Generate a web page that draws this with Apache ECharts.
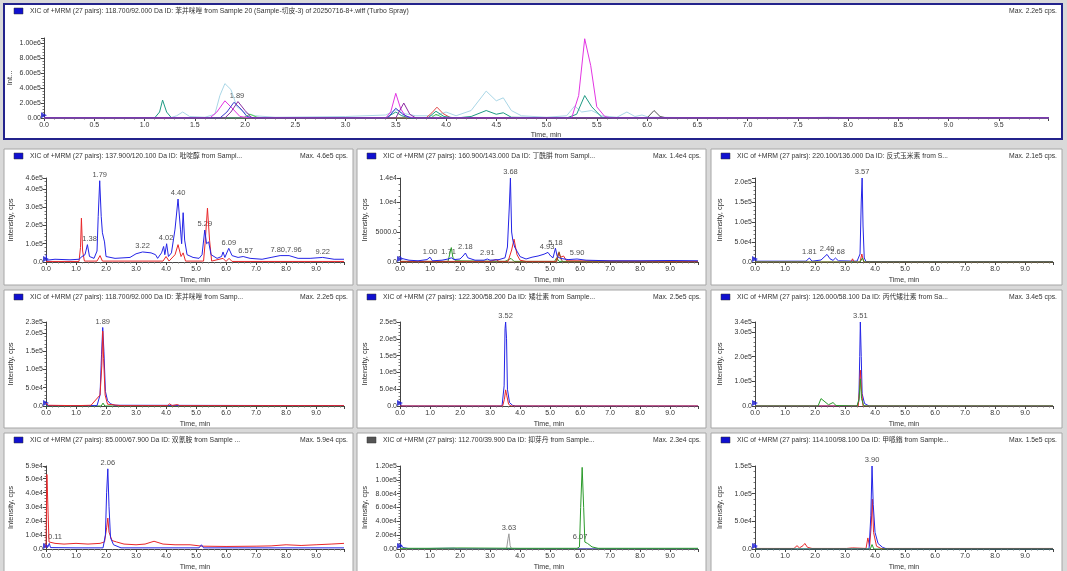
<!DOCTYPE html>
<html>
<head>
<meta charset="utf-8">
<script src="https://cdn.jsdelivr.net/npm/echarts@6/dist/echarts.min.js"></script>
<style>
  html, body { margin: 0; padding: 0; background: #d9d9d9; }
  #main { width: 1067px; height: 571px; }
</style>
</head>
<body>
<div id="main"></div>
<script>
// ---- top panel (overlay of all pairs) ----
var topLightBlue = [[0,0],[1.25,0],[1.32,0.3e5],[1.38,0.8e5],[1.45,0.2e5],[1.6,0.1e5],[1.7,0.5e5],[1.75,3.0e5],[1.8,4.6e5],[1.86,3.8e5],[1.92,1.5e5],[2.0,0.7e5],[2.1,0.3e5],[2.3,0.1e5],[3.0,0.2e5],[3.4,0.4e5],[3.5,1.1e5],[3.58,0.6e5],[3.7,0.3e5],[3.9,0.3e5],[4.0,0.8e5],[4.1,0.3e5],[4.25,1.0e5],[4.4,3.6e5],[4.5,2.3e5],[4.57,2.7e5],[4.65,1.0e5],[4.75,0.3e5],[5.0,0.1e5],[5.2,0.3e5],[5.28,1.6e5],[5.35,0.8e5],[5.45,1.0e5],[5.55,0.3e5],[5.7,0.1e5],[5.8,0.8e5],[5.88,0.2e5],[5.95,0.4e5],[6.02,0.1e5],[6.5,0.05e5],[7.6,0.05e5],[7.8,0.1e5],[8.0,0.05e5],[10,0]];
var topMagenta = [[0,0],[1.65,0],[1.72,0.8e5],[1.8,2.3e5],[1.88,1.2e5],[1.95,0.2e5],[2.05,0],[3.4,0],[3.45,0.8e5],[3.5,3.3e5],[3.55,1.2e5],[3.6,0.2e5],[3.7,0],[5.25,0],[5.32,3.0e5],[5.38,1.06e6],[5.44,7.0e5],[5.5,1.5e5],[5.58,0.2e5],[5.65,0],[10,0]];
var topTeal = [[0,0],[1.1,0],[1.15,0.8e5],[1.18,2.4e5],[1.22,0.8e5],[1.27,0],[3.4,0],[3.5,0.8e5],[3.56,0.3e5],[3.65,0],[3.82,0],[3.9,0.9e5],[3.98,0.2e5],[4.1,0],[4.25,0.2e5],[4.4,1.0e5],[4.5,0.5e5],[4.57,0.7e5],[4.65,0.1e5],[5.2,0],[5.3,0.5e5],[5.38,3.0e5],[5.45,1.5e5],[5.55,0.1e5],[5.65,0],[10,0]];
var topBlue = [[0,0],[1.75,0],[1.82,0.8e5],[1.89,2.1e5],[1.96,1.2e5],[2.02,0.2e5],[2.1,0],[3.42,0],[3.5,1.3e5],[3.57,0.5e5],[3.65,0],[10,0]];
var topPurple = [[0,0],[1.8,0],[1.86,0.8e5],[1.93,2.2e5],[2.0,1.0e5],[2.07,0],[3.5,0],[3.58,2.0e5],[3.64,0.5e5],[3.7,0],[10,0]];
var topRed = [[0,0],[3.8,0],[3.86,0.7e5],[3.91,1.45e5],[3.97,0.6e5],[4.05,0],[10,0]];
var topGreen = [[0,0],[1.98,0],[2.05,0.5e5],[2.12,0.1e5],[2.2,0],[3.85,0],[3.9,0.5e5],[3.96,0.1e5],[4.0,0],[10,0]];
var topGray = [[0,0],[6.0,0],[6.07,1.0e5],[6.13,0.2e5],[6.2,0],[10,0]];
var topLabels = [[1.92,2.2e5,'1.89']];

// ---- 137.900/120.100 ----
var p1Blue = [[0,0.4e5],[0.03,0.1e5],[0.3,0.15e5],[0.8,0.12e5],[1.1,0.15e5],[1.2,0.3e5],[1.3,0.4e5],[1.38,0.95e5],[1.45,0.3e5],[1.6,0.2e5],[1.7,0.6e5],[1.74,2.5e5],[1.79,4.45e5],[1.84,2.5e5],[1.88,1.6e5],[1.95,1.1e5],[2.0,0.3e5],[2.3,0.2e5],[2.8,0.25e5],[3.0,0.45e5],[3.22,0.55e5],[3.5,0.5e5],[3.65,0.4e5],[3.72,0.2e5],[3.85,0.5e5],[3.92,0.85e5],[3.96,0.4e5],[4.02,1.0e5],[4.08,0.3e5],[4.18,0.5e5],[4.3,1.8e5],[4.4,3.45e5],[4.48,1.8e5],[4.52,1.0e5],[4.57,2.7e5],[4.62,1.2e5],[4.7,0.4e5],[4.9,0.25e5],[5.1,0.2e5],[5.2,0.4e5],[5.29,1.75e5],[5.35,1.0e5],[5.42,1.1e5],[5.5,0.4e5],[5.7,0.2e5],[5.85,0.3e5],[5.9,0.55e5],[5.96,0.25e5],[6.09,0.75e5],[6.2,0.35e5],[6.4,0.25e5],[6.57,0.3e5],[6.8,0.2e5],[7.2,0.15e5],[7.5,0.25e5],[7.8,0.35e5],[8.1,0.35e5],[8.4,0.2e5],[8.8,0.2e5],[9.22,0.25e5],[9.6,0.15e5],[9.93,0.15e5]];
var p1Red = [[0,0.03e5],[1.1,0.03e5],[1.15,0.8e5],[1.18,2.4e5],[1.22,0.6e5],[1.28,0.05e5],[1.7,0.05e5],[1.8,0.35e5],[1.88,0.05e5],[3.9,0.05e5],[4.0,0.3e5],[4.1,0.05e5],[4.3,0.4e5],[4.4,0.95e5],[4.5,0.3e5],[4.57,0.5e5],[4.65,0.05e5],[5.25,0.05e5],[5.3,1.0e5],[5.38,2.95e5],[5.45,1.2e5],[5.52,0.05e5],[5.9,0.2e5],[6.0,0.03e5],[6.1,0.2e5],[6.2,0.03e5],[9.93,0.03e5]];
var p1Labels = [[1.79,4.45e5,'1.79'],[1.45,0.95e5,'1.38'],[3.22,0.55e5,'3.22'],[4.0,1.0e5,'4.02'],[4.4,3.45e5,'4.40'],[5.29,1.75e5,'5.29'],[6.09,0.75e5,'6.09'],[6.65,0.3e5,'6.57'],[8.0,0.35e5,'7.80,7.96'],[9.22,0.25e5,'9.22']];

// ---- 160.900/143.000 ----
var p2Blue = [[0,1000],[0.05,600],[0.3,300],[0.6,200],[0.9,400],[1.0,800],[1.08,200],[1.4,300],[1.6,500],[1.71,700],[1.8,400],[2.0,500],[2.1,1000],[2.18,1500],[2.26,700],[2.5,300],[2.8,300],[2.91,500],[3.0,300],[3.3,400],[3.5,700],[3.58,2500],[3.64,9000],[3.68,1.4e4],[3.72,5000],[3.76,3600],[3.82,2500],[3.9,1800],[4.0,900],[4.2,500],[4.4,800],[4.6,1000],[4.8,1300],[4.93,1600],[5.02,1000],[5.1,700],[5.18,2300],[5.24,900],[5.35,600],[5.6,400],[5.9,500],[6.2,300],[7,200],[8,200],[9,250],[9.93,200]];
var p2Red = [[0,100],[3.0,100],[3.2,400],[3.3,100],[3.6,100],[3.72,2000],[3.8,3800],[3.9,1200],[4.0,300],[4.2,100],[5.2,100],[5.28,1500],[5.35,800],[5.45,1000],[5.55,200],[9.93,100]];
var p2Green = [[0,100],[1.6,100],[1.68,1800],[1.71,2400],[1.76,800],[1.85,200],[3.5,100],[3.7,600],[3.8,100],[5.15,100],[5.22,700],[5.3,100],[9.93,100]];
var p2Brown = [[0,0],[5.22,0],[5.3,1700],[5.38,300],[5.45,0],[9.93,0]];
var p2Labels = [[1.0,800,'1.00'],[1.62,800,'1.71'],[2.18,1500,'2.18'],[2.91,500,'2.91'],[3.68,1.4e4,'3.68'],[4.9,1600,'4.93'],[5.18,2300,'5.18'],[5.9,500,'5.90']];

// ---- 220.100/136.000 ----
var p3Blue = [[0,0.1e5],[0.05,0.02e5],[1.7,0.02e5],[1.81,0.1e5],[1.9,0.02e5],[2.2,0.05e5],[2.3,0.12e5],[2.4,0.19e5],[2.5,0.08e5],[2.6,0.04e5],[2.68,0.1e5],[2.78,0.03e5],[3.4,0.02e5],[3.5,0.2e5],[3.54,1.5e5],[3.57,2.1e5],[3.6,0.9e5],[3.64,0.1e5],[3.7,0.01e5],[9.93,0.01e5]];
var p3Red = [[0,0],[3.2,0],[3.25,0.08e5],[3.3,0],[3.5,0],[3.56,0.2e5],[3.62,0],[9.93,0]];
var p3Green = [[0,0],[3.5,0],[3.58,0.1e5],[3.64,0],[9.93,0]];
var p3Labels = [[1.81,1e4,'1.81'],[2.4,1.9e4,'2.40'],[2.75,1e4,'2.68'],[3.57,2.1e5,'3.57']];

// ---- 118.700/92.000 ----
var p4Blue = [[0,0.1e5],[0.05,0.01e5],[1.7,0.01e5],[1.8,0.3e5],[1.85,1.4e5],[1.89,2.15e5],[1.93,1.5e5],[1.98,0.4e5],[2.05,0.15e5],[2.15,0.06e5],[2.3,0.02e5],[9.93,0.01e5]];
var p4Red = [[0,0.08e5],[0.08,0.02e5],[1.0,0.01e5],[1.5,0.02e5],[1.8,0.3e5],[1.86,1.1e5],[1.89,2.05e5],[1.92,1.3e5],[1.97,0.3e5],[2.05,0.05e5],[2.5,0.01e5],[4.05,0.01e5],[4.12,0.06e5],[4.2,0.01e5],[4.38,0.04e5],[4.45,0.01e5],[9.93,0.01e5]];
var p4Green = [[0,0],[1.84,0],[1.9,0.08e5],[1.96,0],[9.93,0]];
var p4Labels = [[1.89,2.15e5,'1.89']];

// ---- 122.300/58.200 ----
var p5Blue = [[0,0.1e5],[0.05,0],[3.4,0],[3.47,0.6e5],[3.5,2.3e5],[3.52,2.5e5],[3.55,2.0e5],[3.58,0.5e5],[3.65,0.1e5],[3.75,0.02e5],[3.85,0],[9.93,0]];
var p5Red = [[0,0],[3.42,0],[3.48,0.2e5],[3.52,0.48e5],[3.56,0.3e5],[3.62,0.05e5],[3.7,0],[9.93,0]];
var p5Labels = [[3.52,2.5e5,'3.52']];

// ---- 126.000/58.100 ----
var p6Blue = [[0,0.1e5],[0.05,0],[3.4,0],[3.46,0.2e5],[3.49,2.0e5],[3.51,3.4e5],[3.54,2.0e5],[3.57,0.5e5],[3.65,0.1e5],[3.8,0],[9.93,0]];
var p6Red = [[0,0],[3.44,0],[3.48,0.6e5],[3.51,1.45e5],[3.55,0.6e5],[3.6,0],[9.93,0]];
var p6Green = [[0,0],[2.1,0],[2.2,0.3e5],[2.3,0.2e5],[2.45,0.05e5],[2.6,0.14e5],[2.7,0.02e5],[3.4,0],[3.47,0.3e5],[3.51,1.1e5],[3.55,0.3e5],[3.62,0.02e5],[3.7,0],[9.93,0]];
var p6Labels = [[3.51,3.4e5,'3.51']];

// ---- 85.000/67.900 ----
var p7Red = [[0,0.1e4],[0.03,5.3e4],[0.07,5.2e4],[0.1,0.5e4],[0.3,0.4e4],[0.6,0.35e4],[1.0,0.4e4],[1.4,0.35e4],[1.8,0.4e4],[1.95,0.5e4],[2.02,1.5e4],[2.06,2.2e4],[2.1,1.2e4],[2.2,0.6e4],[2.35,0.5e4],[2.6,0.35e4],[3.0,0.3e4],[3.3,0.35e4],[3.6,0.55e4],[3.9,0.35e4],[4.3,0.3e4],[4.8,0.3e4],[5.2,0.2e4],[6.0,0.18e4],[7.0,0.2e4],[7.5,0.22e4],[8.0,0.3e4],[8.5,0.25e4],[9.0,0.3e4],[9.5,0.35e4],[9.93,0.4e4]];
var p7Blue = [[0,0.3e4],[0.05,0.1e4],[0.11,0.4e4],[0.15,0.1e4],[1.0,0.08e4],[1.9,0.08e4],[1.98,1.0e4],[2.02,4.0e4],[2.06,5.7e4],[2.1,3.0e4],[2.15,0.8e4],[2.25,0.3e4],[2.5,0.08e4],[5.1,0.08e4],[5.18,0.3e4],[5.25,0.08e4],[9.93,0.08e4]];
var p7Labels = [[2.06,5.7e4,'2.06'],[0.3,0.45e4,'0.11']];

// ---- 112.700/39.900 ----
var p8Green = [[0,0.1e4],[1.0,0.1e4],[2.0,0.15e4],[4.0,0.1e4],[5.9,0.1e4],[5.98,0.3e4],[6.02,6.0e4],[6.07,1.18e5],[6.12,6.0e4],[6.16,1.0e4],[6.25,0.8e4],[6.4,0.3e4],[6.6,0.1e4],[9.93,0.1e4]];
var p8Gray = [[0,0],[3.55,0],[3.6,1.5e4],[3.63,2.2e4],[3.67,0.5e4],[3.72,0],[9.93,0]];
var p8Blue = [[0,0.8e4],[0.1,0.2e4],[0.3,0.05e4],[1.8,0.1e4],[1.85,0.25e4],[1.92,0.05e4],[9.93,0.05e4]];
var p8Labels = [[3.63,2.2e4,'3.63'],[6.0,0.9e4,'6.07']];

// ---- 114.100/98.100 ----
var p9Blue = [[0,0.1e5],[0.05,0],[3.8,0],[3.86,0.6e5],[3.9,1.5e5],[3.94,0.8e5],[4.0,0.3e5],[4.1,0.1e5],[4.25,0.03e5],[4.4,0],[9.93,0]];
var p9Red = [[0,0.01e5],[1.3,0.01e5],[1.4,0.06e5],[1.48,0.02e5],[1.6,0.06e5],[1.66,0.1e5],[1.75,0.03e5],[1.9,0.01e5],[3.05,0.01e5],[3.1,0.02e5],[3.25,0.02e5],[3.3,0.01e5],[3.7,0.01e5],[3.76,0.2e5],[3.82,0.05e5],[3.87,0.4e5],[3.91,0.9e5],[3.95,0.3e5],[4.05,0.05e5],[4.2,0.01e5],[4.9,0.01e5],[4.95,0.02e5],[5.2,0.01e5],[5.25,0.03e5],[5.3,0.01e5],[9.93,0.01e5]];
var p9Green = [[0,0],[3.84,0],[3.9,0.08e5],[3.96,0],[9.93,0]];
var p9Labels = [[3.9,1.5e5,'3.90']];

var BLUE = '#2424e6', RED = '#e8272a', GREEN = '#2a9a2a';
var FONT = '"Liberation Sans", Arial, "Noto Sans CJK SC", sans-serif';

var head = 'XIC of +MRM (27 pairs): ';
var panels = [
  {box:[4,4,1058,135], big:true, grid:[44,38,1004,80], xMax:9.99, xInt:0.5, yMax:1.07e6, yInt:2e5, dec:2, showMax:false, yName:'Int...',
   title: head + '118.700/92.000 Da ID: 苯并咪唑 from Sample 20 (Sample-切皮-3) of 20250716-8+.wiff (Turbo Spray)', maxText:'Max. 2.2e5 cps.',
   lines:[[topLightBlue,'#a9d6e6'],[topGreen,'#55cc55'],[topRed,'#e04848'],[topGray,'#505050'],[topTeal,'#1f9a83'],[topMagenta,'#e235e2'],[topBlue,'#3a3acc'],[topPurple,'#8a2ba0']], labels: topLabels},
  {box:[4,149,349,136], grid:[46,178,298,84], yMax:4.6e5, yInt:1e5, showMax:true,
   title: head + '137.900/120.100 Da ID: 吡啶醇 from Sampl...', maxText:'Max. 4.6e5 cps.', lines:[[p1Red,RED],[p1Blue,BLUE]], labels:p1Labels},
  {box:[357,149,349,136], grid:[400,178,298,84], yMax:1.4e4, yInt:5000, showMax:true,
   title: head + '160.900/143.000 Da ID: 丁酰肼 from Sampl...', maxText:'Max. 1.4e4 cps.', lines:[[p2Green,GREEN],[p2Red,RED],[p2Brown,'#8b4a1a'],[p2Blue,BLUE]], labels:p2Labels},
  {box:[711,149,351,136], grid:[755,178,298,84], yMax:2.1e5, yInt:5e4, showMax:false,
   title: head + '220.100/136.000 Da ID: 反式玉米素 from S...', maxText:'Max. 2.1e5 cps.', lines:[[p3Blue,BLUE],[p3Red,RED],[p3Green,GREEN]], labels:p3Labels},
  {box:[4,290,349,138], grid:[46,322,298,84], yMax:2.3e5, yInt:5e4, showMax:true,
   title: head + '118.700/92.000 Da ID: 苯并咪唑 from Samp...', maxText:'Max. 2.2e5 cps.', lines:[[p4Green,GREEN],[p4Blue,BLUE],[p4Red,RED]], labels:p4Labels},
  {box:[357,290,349,138], grid:[400,322,298,84], yMax:2.5e5, yInt:5e4, showMax:true,
   title: head + '122.300/58.200 Da ID: 矮壮素 from Sample...', maxText:'Max. 2.5e5 cps.', lines:[[p5Blue,BLUE],[p5Red,RED]], labels:p5Labels},
  {box:[711,290,351,138], grid:[755,322,298,84], yMax:3.4e5, yInt:1e5, showMax:true,
   title: head + '126.000/58.100 Da ID: 丙代矮壮素 from Sa...', maxText:'Max. 3.4e5 cps.', lines:[[p6Blue,BLUE],[p6Red,RED],[p6Green,GREEN]], labels:p6Labels},
  {box:[4,433,349,140], grid:[46,466,298,83], yMax:5.9e4, yInt:1e4, showMax:true,
   title: head + '85.000/67.900 Da ID: 双氰胺 from Sample ...', maxText:'Max. 5.9e4 cps.', lines:[[p7Red,RED],[p7Blue,BLUE]], labels:p7Labels},
  {box:[357,433,349,140], grid:[400,466,298,83], yMax:1.2e5, yInt:2e4, dec:2, showMax:true, icon:'#555',
   title: head + '112.700/39.900 Da ID: 抑芽丹 from Sample...', maxText:'Max. 2.3e4 cps.', lines:[[p8Blue,BLUE],[p8Gray,'#9a9a9a'],[p8Green,GREEN]], labels:p8Labels},
  {box:[711,433,351,140], grid:[755,466,298,83], yMax:1.5e5, yInt:5e4, showMax:true,
   title: head + '114.100/98.100 Da ID: 甲哌鎓 from Sample...', maxText:'Max. 1.5e5 cps.', lines:[[p9Red,RED],[p9Blue,BLUE],[p9Green,GREEN]], labels:p9Labels}
];

function isStep(v, step) {
  var r = v / step;
  return Math.abs(r - Math.round(r)) < 1e-6;
}

var grids = [], xAxes = [], yAxes = [], series = [], graphics = [];

panels.forEach(function(p, i) {
  var dec = p.dec || 1;
  var xMax = p.xMax || 9.93, xInt = p.xInt || 1;
  var b = p.box;
  graphics.push({type:'rect', z:-10, shape:{x:b[0], y:b[1], width:b[2], height:b[3]},
    style:{fill:'#ffffff', stroke: p.big ? '#23238c' : '#a6a6a6', lineWidth: p.big ? 2 : 1}});
  graphics.push({type:'rect', z:-5, shape:{x:b[0]+10, y:b[1]+4, width:9, height:6},
    style:{fill: p.icon || '#1010d0', stroke:'#333', lineWidth:0.5}});
  graphics.push({type:'text', z:-5, x:b[0]+26, y:b[1]+4,
    style:{text:p.title, font:'6.8px ' + FONT, fill:'#333'}});
  graphics.push({type:'text', z:-5, x:b[0]+b[2]-5, y:b[1]+4,
    style:{text:p.maxText, font:'6.8px ' + FONT, fill:'#333', align:'right'}});

  grids.push({left:p.grid[0], top:p.grid[1], width:p.grid[2], height:p.grid[3], outerBoundsMode:'none', containLabel:false});
  xAxes.push({
    gridIndex:i, type:'value', min:0, max:xMax, interval:xInt,
    name:'Time, min', nameLocation:'middle', nameGap: p.big ? 14 : 15, nameMoveOverlap:false,
    nameTextStyle:{fontSize:7, color:'#333', fontFamily:FONT},
    axisLine:{lineStyle:{color:'#444', width:1}},
    axisTick:{show:true, length:3, lineStyle:{color:'#444'}},
    minorTick:{show:true, splitNumber:5, length:1.5, lineStyle:{color:'#777'}},
    splitLine:{show:false},
    axisLabel:{fontSize:7, color:'#333', fontFamily:FONT, margin:4,
      formatter:function(v){ return isStep(v, xInt) ? v.toFixed(1) : ''; }}
  });
  yAxes.push({
    gridIndex:i, type:'value', min:0, max:p.yMax, interval:p.yInt,
    name:p.yName || 'Intensity, cps', nameLocation:'middle', nameGap: p.big ? 30 : 31, nameRotate:90, nameMoveOverlap:false,
    nameTextStyle:{fontSize:7.5, color:'#333', fontFamily:FONT},
    axisLine:{show:true, lineStyle:{color:'#444', width:1}},
    axisTick:{show:true, length:3, lineStyle:{color:'#444'}},
    minorTick:{show:true, splitNumber:5, length:1.5, lineStyle:{color:'#777'}},
    splitLine:{show:false},
    axisLabel:{fontSize:7, color:'#333', fontFamily:FONT, margin:3,
      formatter:function(v){
        var onStep = isStep(v, p.yInt);
        if (!onStep && !(p.showMax && Math.abs(v - p.yMax) < 1e-6)) return '';
        if (v === 0) return (0).toFixed(dec);
        if (v < 1e4) return v.toFixed(1);
        return v.toExponential(dec).replace('e+', 'e');
      }}
  });
  p.lines.forEach(function(l) {
    series.push({type:'line', xAxisIndex:i, yAxisIndex:i, data:l[0], showSymbol:false, symbol:'none',
      lineStyle:{color:l[1], width:1}, silent:true, animation:false, clip:true});
  });
  series.push({type:'scatter', xAxisIndex:i, yAxisIndex:i, data:p.labels, symbolSize:0, silent:true, animation:false,
    label:{show:true, position:'top', distance:2, fontSize:7.5, color:'#222', fontFamily:FONT,
      formatter:function(q){ return q.value[2]; }}});
  // blue start marker on the y axis
  series.push({type:'scatter', xAxisIndex:i, yAxisIndex:i, data:[[0, p.yMax * 0.035]], symbol:'triangle', symbolRotate:-90,
    symbolSize:[6,6], itemStyle:{color:'#1a1ad0'}, silent:true, animation:false, clip:false});
});

var chart = echarts.init(document.getElementById('main'));
chart.setOption({
  backgroundColor:'#d9d9d9',
  animation:false,
  grid:grids, xAxis:xAxes, yAxis:yAxes, series:series,
  graphic:{elements:graphics}
});
</script>
</body>
</html>
